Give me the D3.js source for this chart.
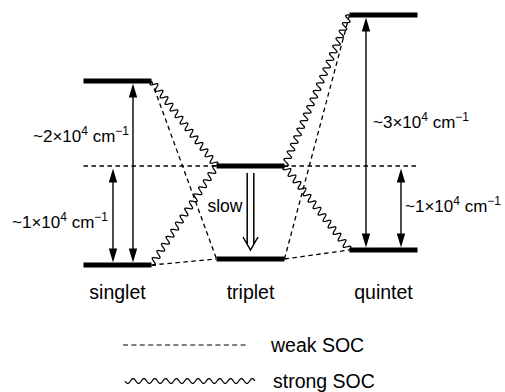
<!DOCTYPE html>
<html><head><meta charset="utf-8">
<script src="https://cdn.jsdelivr.net/npm/d3@7"></script>
<style>body{margin:0;background:#fff}svg{display:block}text{font-family:"Liberation Sans",Arial,sans-serif;fill:#000}</style>
</head><body><svg id="c" width="505" height="392"></svg>
<script>
// schematic energies (arbitrary units, lowest singlet = 0)
const states = ["singlet", "triplet", "quintet"];
const lowerLevel = [0, 6, 15];
const upperLevel = [184, 99, 250];
const refEnergy = 99; // dashed reference = upper triplet
const gapLabels = {
  singletBig: ["~2\u00d710", "4", " cm", "\u22121"],
  singletSmall: ["~1\u00d710", "4", " cm", "\u22121"],
  quintetBig: ["~3\u00d710", "4", " cm", "\u22121"],
  quintetSmall: ["~1\u00d710", "4", " cm", "\u22121"]
};
const legendLabels = ["weak SOC", "strong SOC"];
const slowLabel = "slow";

const svg = d3.select("#c");
const x = d3.scalePoint().domain(states).range([117.5, 383.5]);
const y = d3.scaleLinear().domain([0, 250]).range([265, 15]);
const hw = 34;
const col = "#000";

// dashed reference line
svg.append("line").attr("x1", x("singlet") - hw).attr("x2", x("quintet") + hw)
  .attr("y1", y(refEnergy)).attr("y2", y(refEnergy))
  .attr("stroke", col).attr("stroke-width", 1.3).attr("stroke-dasharray", "4.5,3.5");

function dashed(p0, p1) {
  svg.append("line").attr("x1", p0[0]).attr("y1", p0[1]).attr("x2", p1[0]).attr("y2", p1[1])
    .attr("stroke", col).attr("stroke-width", 1.3).attr("stroke-dasharray", "4.5,3.5");
}
function wavy(p0, p1, wl, amp) {
  const dx = p1[0] - p0[0], dy = p1[1] - p0[1];
  const L = Math.hypot(dx, dy);
  const n = Math.max(1, Math.round(L / wl));
  const ux = dx / L, uy = dy / L, nx = -uy, ny = ux;
  const pts = [];
  const N = n * 24;
  for (let i = 0; i <= N; i++) {
    const t = i / N;
    const s = amp * Math.sin(t * n * 2 * Math.PI);
    pts.push([p0[0] + dx * t + nx * s, p0[1] + dy * t + ny * s]);
  }
  svg.append("path").attr("d", d3.line()(pts)).attr("fill", "none")
    .attr("stroke", col).attr("stroke-width", 1.25);
}
function dblArrow(xp, e0, e1) {
  const ya = y(e1) + 2.5, yb = y(e0) - 2.5; // top tip, bottom tip
  const hl = 14, hwid = 4.2;
  svg.append("line").attr("x1", xp).attr("x2", xp).attr("y1", ya + hl - 2).attr("y2", yb - hl + 2)
    .attr("stroke", col).attr("stroke-width", 1.4);
  svg.append("path").attr("d", `M${xp},${ya}L${xp - hwid},${ya + hl}L${xp + hwid},${ya + hl}Z`).attr("fill", col);
  svg.append("path").attr("d", `M${xp},${yb}L${xp - hwid},${yb - hl}L${xp + hwid},${yb - hl}Z`).attr("fill", col);
}
function supLabel(parts, xp, yp, anchor) {
  const t = svg.append("text").attr("x", xp).attr("y", yp).attr("font-size", 17).attr("text-anchor", anchor);
  t.append("tspan").text(parts[0]);
  t.append("tspan").text(parts[1]).attr("font-size", 12).attr("dy", -7);
  t.append("tspan").text(parts[2]).attr("dy", 7);
  t.append("tspan").text(parts[3]).attr("font-size", 12).attr("dy", -7);
}

const S = 0, T = 1, Q = 2;
const L = (i, e) => [x(states[i]) - hw, y(e)];
const R = (i, e) => [x(states[i]) + hw, y(e)];

// weak SOC (dashed) couplings
dashed(R(S, upperLevel[S]), L(T, lowerLevel[T]));
dashed(R(S, lowerLevel[S]), L(T, lowerLevel[T]));
dashed(R(T, lowerLevel[T]), L(Q, upperLevel[Q]));
dashed(R(T, lowerLevel[T]), L(Q, lowerLevel[Q]));

// strong SOC (wavy) couplings
wavy(R(S, upperLevel[S]), L(T, upperLevel[T]), 8.4, 3.2);
wavy(R(S, lowerLevel[S]), L(T, upperLevel[T]), 8.4, 3.2);
wavy(R(T, upperLevel[T]), L(Q, upperLevel[Q]), 8.4, 3.2);
wavy(R(T, upperLevel[T]), L(Q, lowerLevel[Q]), 8.4, 3.2);

// levels
states.forEach((s, i) => {
  [lowerLevel[i], upperLevel[i]].forEach(e => {
    svg.append("line").attr("x1", x(s) - hw).attr("x2", x(s) + hw).attr("y1", y(e)).attr("y2", y(e))
      .attr("stroke", col).attr("stroke-width", 5);
  });
  svg.append("text").attr("x", x(s)).attr("y", 299).attr("text-anchor", "middle")
    .attr("font-size", 19.5).text(s);
});

// gap arrows
dblArrow(x("singlet") + 15.5, lowerLevel[S], upperLevel[S]);
dblArrow(x("singlet") - 4.5, lowerLevel[S], refEnergy);
dblArrow(x("quintet") - 17.5, lowerLevel[Q], upperLevel[Q]);
dblArrow(x("quintet") + 17.5, lowerLevel[Q], refEnergy);

supLabel(gapLabels.singletBig, 129, 142, "end");
supLabel(gapLabels.singletSmall, 108, 228, "end");
supLabel(gapLabels.quintetBig, 373, 128, "start");
supLabel(gapLabels.quintetSmall, 405, 212, "start");

// slow hollow arrow triplet
const tx = x("triplet");
const yt0 = y(upperLevel[T]) + 7, yt1 = y(lowerLevel[T]) - 9;
svg.append("path").attr("fill", "none").attr("stroke", col).attr("stroke-width", 1.5)
  .attr("d", `M${tx - 3.3},${yt0}V${yt1 - 6}M${tx + 3.3},${yt0}V${yt1 - 6}M${tx - 7.5},${yt1 - 13}L${tx},${yt1}L${tx + 7.5},${yt1 - 13}`);
svg.append("text").attr("x", tx - 8).attr("y", 212).attr("text-anchor", "end").attr("font-size", 17.5).text(slowLabel);

// legend
svg.append("line").attr("x1", 123).attr("x2", 248).attr("y1", 345).attr("y2", 345)
  .attr("stroke", col).attr("stroke-width", 1.2).attr("stroke-dasharray", "5,3.4");
wavy([125, 381], [255, 381], 10.8, 2.4);
svg.append("text").attr("x", 271).attr("y", 352).attr("font-size", 19.5).text(legendLabels[0]);
svg.append("text").attr("x", 273).attr("y", 388).attr("font-size", 19.5).text(legendLabels[1]);
</script></body></html>
